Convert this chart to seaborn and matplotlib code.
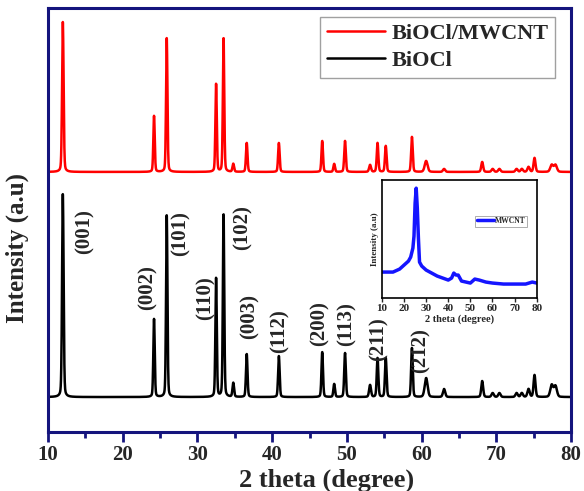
import numpy as np
import pandas as pd
import matplotlib
matplotlib.use("Agg")
import matplotlib.pyplot as plt
import seaborn as sns

# peak list (2 theta, height above baseline)
peak_pos = [12.0, 24.2, 25.9, 32.5, 33.5, 34.8, 36.6, 40.9, 46.7, 48.3, 49.75,
            53.1, 54.1, 55.2, 58.7, 60.6, 63.0, 68.1, 69.5, 70.4, 72.7, 73.4,
            74.3, 75.1, 77.4, 77.9]
peak_fwhm = [0.24, 0.22, 0.22, 0.22, 0.22, 0.25, 0.24, 0.24, 0.24, 0.25, 0.25,
             0.3, 0.25, 0.25, 0.25, 0.45, 0.35, 0.3, 0.35, 0.35, 0.35, 0.35,
             0.35, 0.3, 0.45, 0.45]
biocl_h = [203, 78, 182, 119, 183, 14, 43, 41, 45, 13, 44,
           12, 39, 39, 49, 19, 8, 16, 4, 4, 4, 4,
           8, 22, 12, 11]
composite_h = [150, 56, 134, 88, 134, 8, 29, 29, 31, 8, 31,
               7, 29, 26, 35, 11, 3, 10, 3, 3, 3, 3,
               5, 14, 7, 7]

hkl_labels = ["(001)", "(002)", "(101)", "(110)", "(102)", "(003)",
              "(112)", "(200)", "(113)", "(211)", "(212)"]
hkl_x = [14.95, 23.4, 27.7, 31.1, 36.1, 37.0, 41.05, 46.4, 50.0, 54.3, 59.9]
hkl_y = [200, 144, 198, 134, 204, 116, 101, 108, 108, 93, 81]

# MWCNT inset, points
cnt_x = [10, 15, 18, 20, 22, 23, 24, 24.5, 25, 25.5, 26, 26.5, 27, 28, 30, 35,
         40, 41.5, 42.5, 43.5, 44.5, 46, 50, 52, 54, 57, 60, 65, 70, 75, 78, 80]
cnt_y = [26, 26, 29, 33, 37, 41, 50, 62, 95, 110, 90, 60, 36, 32, 28, 22,
         18, 20, 25, 23, 23, 17, 15, 19, 18, 16, 15, 14, 14, 14, 16, 15]

base_black = 35
base_red = 260

tt = np.linspace(10, 80, 4000)


def pattern(heights, base):
    y = np.full_like(tt, float(base))
    for p, h, w in zip(peak_pos, heights, peak_fwhm):
        g = np.exp(-4 * np.log(2) * ((tt - p) / w) ** 2)
        l = 1 / (1 + 4 * ((tt - p) / w) ** 2)
        y += h * (0.75 * g + 0.25 * l)
    return y


df = pd.DataFrame({"tt": tt,
                   "black": pattern(biocl_h, base_black),
                   "red": pattern(composite_h, base_red)})

sns.set_style("white")
plt.rcParams["font.family"] = ["Liberation Serif", "DejaVu Serif"]
plt.rcParams["font.weight"] = "bold"

navy = "#14147d"
fig = plt.figure(figsize=(5.84, 4.91), dpi=100)
ax = fig.add_axes([0.082, 0.12, 0.896, 0.864])

sns.lineplot(data=df, x="tt", y="red", ax=ax, color="#ff0000", lw=1.8, label="BiOCl/MWCNT")
sns.lineplot(data=df, x="tt", y="black", ax=ax, color="black", lw=1.8, label="BiOCl")

for lab, x, y in zip(hkl_labels, hkl_x, hkl_y):
    ax.text(x, y, lab, rotation=90, ha="center", va="center", fontsize=15, fontweight="bold")

ax.set_xlim(10, 80)
ax.set_ylim(0, 424)
ax.set_yticks([])
ax.set_xticks(range(10, 81, 10))
ax.set_xticks(range(15, 80, 10), minor=True)
ax.tick_params(axis="x", which="major", direction="out", length=7, width=2, color=navy,
               labelsize=15, pad=2, bottom=True)
ax.tick_params(axis="x", which="minor", direction="out", length=4, width=2, color=navy, bottom=True)
for s in ax.spines.values():
    s.set_color(navy)
    s.set_linewidth(2.2)
ax.set_xlabel("2 theta (degree)", fontsize=19, fontweight="bold")
ax.set_ylabel("Intensity (a.u)", fontsize=18, fontweight="bold")
ax.xaxis.set_label_coords(0.532, -0.085)
ax.yaxis.set_label_coords(-0.037, 0.434)

leg = ax.legend(loc="upper right", bbox_to_anchor=(0.969, 0.979), fontsize=16, frameon=True,
                fancybox=False, edgecolor="#888888", handlelength=2.6, handletextpad=0.3,
                borderpad=0.3, labelspacing=0.3, borderaxespad=0)
leg.get_frame().set_linewidth(1.0)
for t in leg.get_texts():
    t.set_fontweight("bold")

# inset
ins = fig.add_axes([0.654, 0.393, 0.265, 0.240])
sns.lineplot(x=cnt_x, y=cnt_y, ax=ins, color="#1515ff", lw=2.5, label="MWCNT")
ins.set_xlim(10, 80)
ins.set_ylim(0, 118)
ins.set_yticks([])
ins.set_xticks(range(10, 81, 10))
ins.tick_params(axis="x", direction="out", length=3, width=1, labelsize=8, pad=1, bottom=True)
for s in ins.spines.values():
    s.set_color("black")
    s.set_linewidth(1.2)
ins.set_xlabel("2 theta (degree)", fontsize=7.5, fontweight="bold", labelpad=1)
ins.set_ylabel("Intensity (a.u)", fontsize=6.5, fontweight="bold", labelpad=2)
il = ins.legend(loc="upper right", bbox_to_anchor=(0.94, 0.7), fontsize=5.5, frameon=True,
                fancybox=False, edgecolor="#888888", handlelength=2.2, handletextpad=0.2,
                borderpad=0.2, borderaxespad=0)
il.get_frame().set_linewidth(0.6)

fig.savefig("out.png", dpi=100)
